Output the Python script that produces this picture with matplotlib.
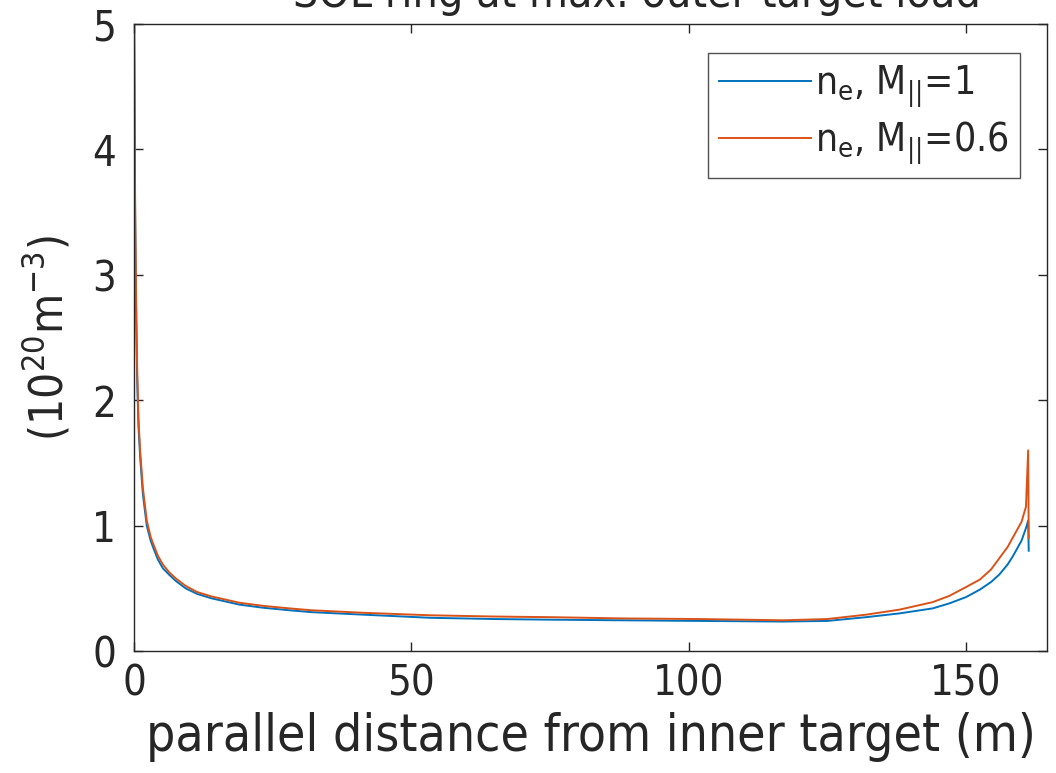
import matplotlib
matplotlib.use("Agg")
import matplotlib.pyplot as plt

# parallel distance from inner target (m)
dist = [0, 0.1, 0.2, 0.35, 0.55, 0.8, 1.1, 1.6, 2.3, 3.0, 3.5, 4.3, 5.2, 6.3,
        7.5, 9.3, 11.4, 14, 16, 19, 23.3, 28, 32, 41.3, 53.4, 65, 75, 88, 102,
        117, 125, 132, 138, 144, 147, 150, 152.5, 154.5, 156, 157.5, 158.5,
        159.5, 160, 160.8, 161.2, 161.3]
# n_e (1e20 m^-3), M_par = 1
ne_m1 = [5.2, 4.3, 3.5, 2.8, 2.2, 1.8, 1.55, 1.25, 1.0, 0.88, 0.82, 0.73,
         0.66, 0.61, 0.56, 0.50, 0.455, 0.42, 0.40, 0.37, 0.345, 0.325, 0.31,
         0.29, 0.265, 0.255, 0.25, 0.245, 0.24, 0.235, 0.24, 0.27, 0.30, 0.34,
         0.38, 0.43, 0.49, 0.55, 0.61, 0.69, 0.76, 0.84, 0.88, 0.98, 1.04, 0.80]
# n_e (1e20 m^-3), M_par = 0.6
ne_m06 = [5.2, 4.4, 3.6, 2.9, 2.3, 1.85, 1.6, 1.3, 1.04, 0.91, 0.85, 0.76,
          0.69, 0.63, 0.58, 0.52, 0.47, 0.435, 0.415, 0.385, 0.36, 0.34, 0.325,
          0.305, 0.285, 0.275, 0.27, 0.26, 0.255, 0.245, 0.255, 0.29, 0.33,
          0.39, 0.44, 0.51, 0.57, 0.65, 0.74, 0.83, 0.91, 0.99, 1.03, 1.15,
          1.60, 0.90]

BLUE = "#0072BD"
ORANGE = "#D95319"
DARK = "#262626"

plt.rcParams["font.family"] = "DejaVu Sans"
plt.rcParams["font.stretch"] = "condensed"
plt.rcParams["mathtext.fontset"] = "dejavusans"

fig = plt.figure(figsize=(10.56, 7.73), dpi=100)
ax = fig.add_axes([0.1269, 0.1578, 0.8646, 0.8111])

ax.plot(dist, ne_m1, color=BLUE, lw=1.4,
        label=r"n$_{\mathdefault{e}}$, M$_{\mathdefault{||}}$=1")
ax.plot(dist, ne_m06, color=ORANGE, lw=1.4,
        label=r"n$_{\mathdefault{e}}$, M$_{\mathdefault{||}}$=0.6")

ax.set_xlim(0, 164.6)
ax.set_ylim(0, 5)
ax.set_xticks([0, 50, 100, 150])
ax.set_yticks([0, 1, 2, 3, 4, 5])

for s in ax.spines.values():
    s.set_color(DARK)
    s.set_linewidth(1.0)
ax.tick_params(direction="in", top=True, right=True, length=6.5, width=1.0,
               colors=DARK, labelsize=30)
ax.tick_params(axis="x", pad=8)
ax.tick_params(axis="y", pad=13)

ax.set_xlabel("parallel distance from inner target (m)", fontsize=37,
              color=DARK, labelpad=6)
ax.set_ylabel(r"(10$^{\mathdefault{20}}$m$^{\mathdefault{-3}}$)", fontsize=33,
              color=DARK, labelpad=14)
ax.set_title("SOL ring at max. outer target load", fontsize=32, color=DARK,
             x=0.551, pad=12)

leg = ax.legend(loc="upper right", bbox_to_anchor=(0.9704, 0.9537),
                fontsize=28, handlelength=2.35, frameon=True, fancybox=False,
                borderpad=0.28, labelspacing=0.25, handletextpad=0.12,
                borderaxespad=0)
leg.get_frame().set_edgecolor(DARK)
leg.get_frame().set_linewidth(1.0)
for t in leg.get_texts():
    t.set_color(DARK)

fig.savefig("out.png", dpi=100)
